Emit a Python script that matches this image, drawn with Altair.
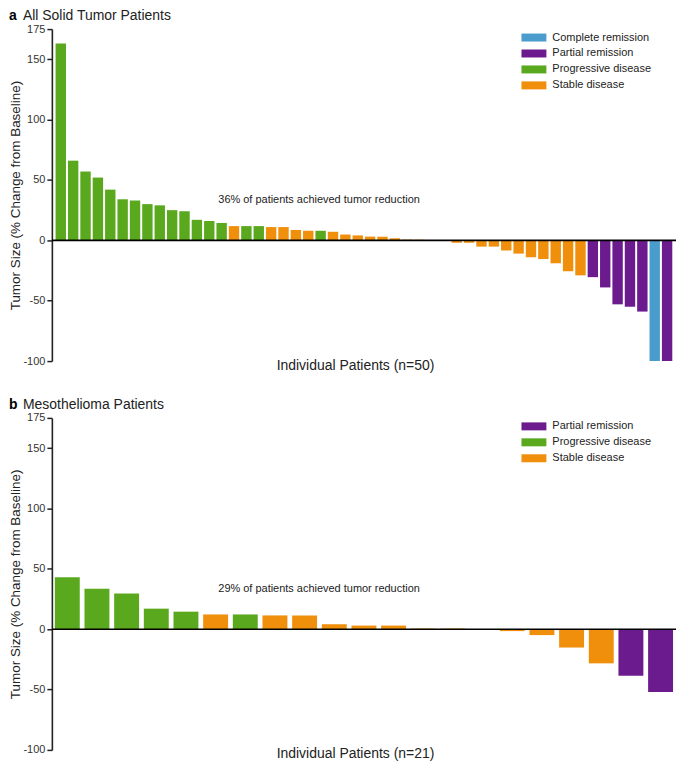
import altair as alt
import pandas as pd

FONT = "Liberation Sans"

NAMES = {"CR": "Complete remission", "PR": "Partial remission",
         "PD": "Progressive disease", "SD": "Stable disease"}
COLORS = {"Complete remission": "#4a9ccc", "Partial remission": "#6b1b8d",
          "Progressive disease": "#59a81e", "Stable disease": "#ef8f0b"}

# Panel a: all solid tumor patients (n=50)
top_values = [163, 66, 57, 52, 42, 34, 33, 30, 29, 25, 24, 17, 16, 14.4,
              11.8, 11.8, 11.8, 11, 11, 8.6, 7.9, 7.9, 7.1, 4.8, 4.1, 3.1, 3.0,
              1.7, 0.6, 0.5, 0, 0,
              -2, -2, -5.2, -5.2, -8.4, -11, -14, -15.5, -19, -25.6, -29,
              -30.5, -39, -53, -55, -59, -100, -100]
top_codes = ["PD", "PD", "PD", "PD", "PD", "PD", "PD", "PD", "PD", "PD", "PD", "PD", "PD", "PD",
             "SD", "PD", "PD", "SD", "SD", "SD", "SD", "PD", "SD", "SD", "SD", "SD", "SD",
             "SD", "SD", "SD", "SD", "SD",
             "SD", "SD", "SD", "SD", "SD", "SD", "SD", "SD", "SD", "SD", "SD",
             "PR", "PR", "PR", "PR", "PR", "CR", "PR"]
top_domain = ["Complete remission", "Partial remission", "Progressive disease", "Stable disease"]

# Panel b: mesothelioma patients (n=21)
bottom_values = [43, 33.5, 29.5, 17, 14.5, 12.2, 12.2, 11.4, 11.4, 4.1, 3.0, 3.0,
                 0.5, 0.5, 0, -1.6, -4.9, -15.2, -28.3, -38.6, -52]
bottom_codes = ["PD", "PD", "PD", "PD", "PD", "SD", "PD", "SD", "SD", "SD", "SD", "SD",
                "SD", "SD", "SD", "SD", "SD", "SD", "SD", "PR", "PR"]
bottom_domain = ["Partial remission", "Progressive disease", "Stable disease"]

y_ticks = [-100, -50, 0, 50, 100, 150, 175]

W = 626
H = 333
TEXT = "#222"


def panel(values, codes, domain, letter, name, xtitle, note, p_outer):
    n = len(values)
    df = pd.DataFrame({"patient": list(range(1, n + 1)),
                       "change": values,
                       "response": [NAMES[c] for c in codes]})
    x = alt.X("patient:O", sort="ascending",
              scale=alt.Scale(paddingInner=0.16, paddingOuter=p_outer),
              axis=alt.Axis(title=xtitle, labels=False, ticks=False, domain=False, grid=False,
                            titleFont=FONT, titleFontSize=14, titleFontWeight="normal",
                            titleColor=TEXT, titlePadding=-3, titleBaseline="top", titleX=304))
    y = alt.Y("change:Q", scale=alt.Scale(domain=[-100, 175], nice=False),
              axis=alt.Axis(values=y_ticks, labelExpr="'' + datum.value",
                            title="Tumor Size (% Change from Baseline)",
                            titleFont=FONT, titleFontSize=13.5, titleFontWeight="normal",
                            titleColor=TEXT, titlePadding=0,
                            labelFont=FONT, labelFontSize=11, labelColor="#333", labelPadding=2,
                            tickSize=5, tickColor=TEXT, tickWidth=1.5,
                            domainColor=TEXT, domainWidth=1.6, grid=False))
    color = alt.Color("response:N",
                      scale=alt.Scale(domain=domain, range=[COLORS[d] for d in domain]),
                      legend=alt.Legend(title=None, orient="none", legendX=478, legendY=3,
                                        symbolType="M-3.125,-1H3.125V1H-3.125Z", symbolSize=64,
                                        symbolStrokeWidth=0, symbolOpacity=1,
                                        labelFont=FONT, labelFontSize=11, labelColor=TEXT,
                                        labelOffset=13, rowPadding=4, padding=0))
    bars = alt.Chart(df).mark_bar().encode(x=x, y=y, color=color)
    one = pd.DataFrame({"k": [0]})
    zero = alt.Chart(one).mark_rule(color="black", strokeWidth=1.6).encode(y=alt.datum(0))
    note_t = alt.Chart(one).mark_text(text=note, font=FONT, fontSize=11, color=TEXT,
                                      align="center", baseline="middle").encode(
        x=alt.value(268), y=alt.datum(33))
    letter_t = alt.Chart(one).mark_text(text=letter, font=FONT, fontSize=14, fontWeight="bold",
                                        color="black", align="left", baseline="top").encode(
        x=alt.value(-43), y=alt.value(-20))
    name_t = alt.Chart(one).mark_text(text=name, font=FONT, fontSize=14, color=TEXT,
                                      align="left", baseline="top").encode(
        x=alt.value(-29), y=alt.value(-20))
    return alt.layer(bars, zero, note_t, letter_t, name_t).properties(width=W, height=H)


top = panel(top_values, top_codes, top_domain, "a", "All Solid Tumor Patients",
            "Individual Patients (n=50)", "36% of patients achieved tumor reduction", 0.3)
bottom = panel(bottom_values, bottom_codes, bottom_domain, "b", "Mesothelioma Patients",
               "Individual Patients (n=21)", "29% of patients achieved tumor reduction", 0.1)

chart = alt.vconcat(top, bottom, spacing=26).resolve_scale(color="independent").configure(
    padding={"left": 0, "top": 0, "right": 0, "bottom": 0}
).configure_view(stroke=None).configure_legend(labelFontSize=11, labelFont=FONT)

chart.save("out.html", embed_options={"renderer": "svg", "actions": False})
